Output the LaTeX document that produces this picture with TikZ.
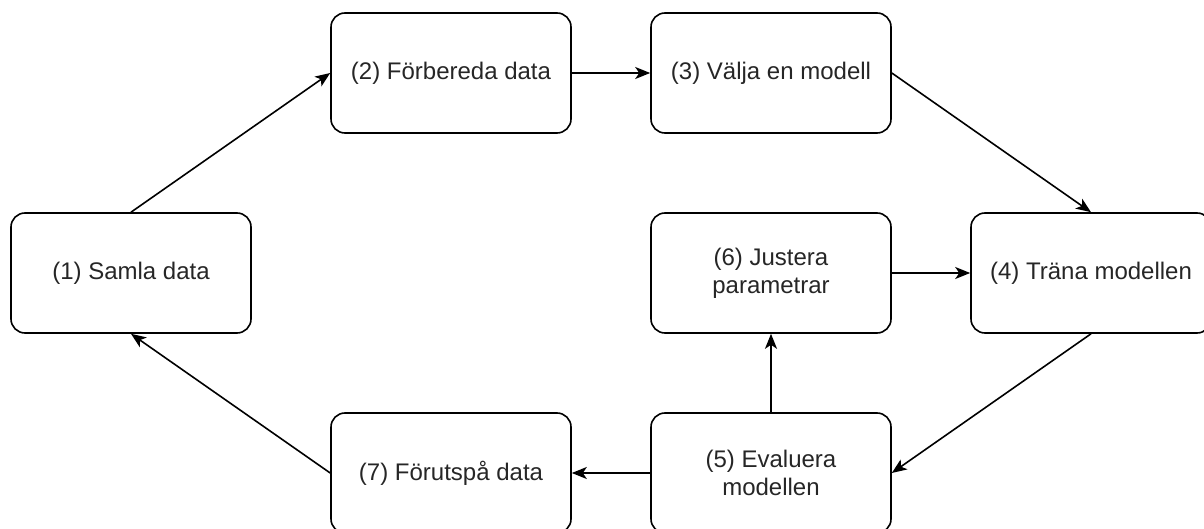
\documentclass[tikz,border=0pt]{standalone}
\usepackage{fontspec}
\setmainfont{Liberation Sans}
\usetikzlibrary{arrows.meta}
\begin{document}
\begin{tikzpicture}[>={Stealth[length=7.5pt,width=6pt,inset=2pt]},x=1pt,y=-1pt,line width=0.8pt,
    stap/.style={draw, rounded corners=7pt, minimum width=120pt, minimum height=60pt,
      align=center, inner sep=0pt, text=black!85, font=\fontsize{12}{14}\selectfont}]
    \path[use as bounding box, clip] (0,0) rectangle (602,264.5);
    \node[stap] (samla) at (65.5,136.5) {(1) Samla data};
    \node[stap] (forbereda) at (225.5,36.5) {(2) Förbereda data};
    \node[stap] (valja) at (385.5,36.5) {(3) Välja en modell};
    \node[stap] (trana) at (545.5,136.5) {(4) Träna modellen};
    \node[stap] (evaluera) at (385.5,236.5) {(5) Evaluera\\modellen};
    \node[stap] (justera) at (385.5,136.5) {(6) Justera\\parametrar};
    \node[stap] (forutspa) at (225.5,236.5) {(7) Förutspå data};
    \draw[->] (samla.north) -- (forbereda.west);
    \draw[->] (forbereda) -- (valja);
    \draw[->] (valja.east) -- (trana.north);
    \draw[->] (trana.south) -- (evaluera.east);
    \draw[->] (evaluera) -- (justera);
    \draw[->] (justera) -- (trana);
    \draw[->] (evaluera) -- (forutspa);
    \draw[->] (forutspa.west) -- (samla.south);
\end{tikzpicture}
\end{document}
